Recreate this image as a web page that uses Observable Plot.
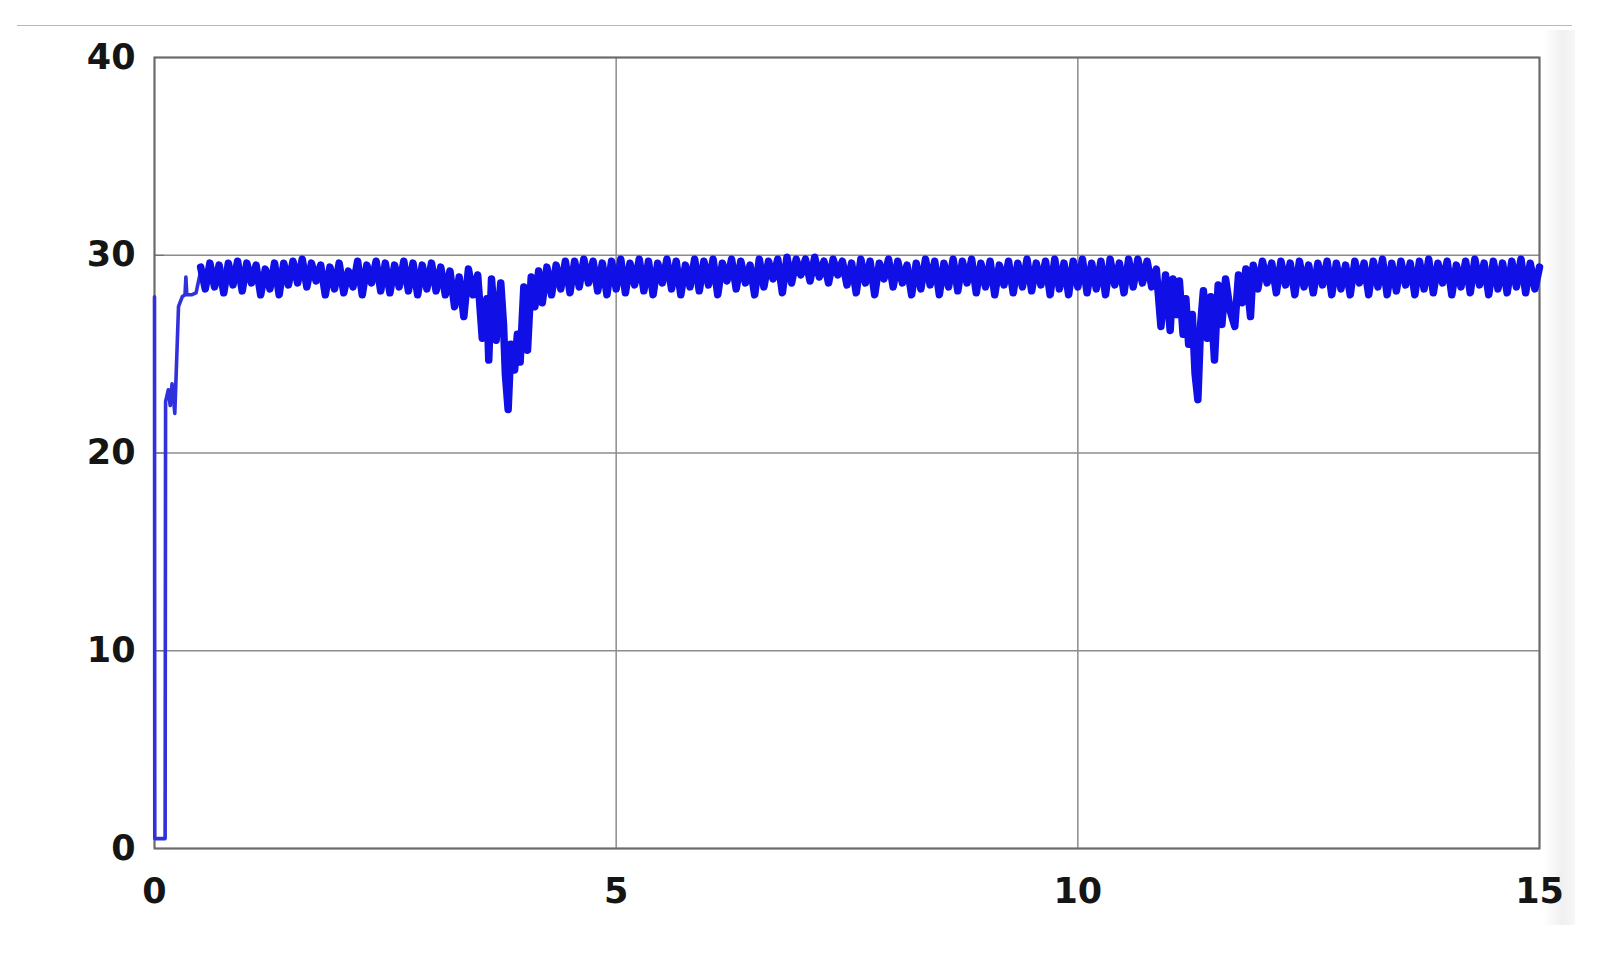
<!DOCTYPE html>
<html><head><meta charset="utf-8">
<script src="https://cdn.jsdelivr.net/npm/d3@7"></script>
<script src="https://cdn.jsdelivr.net/npm/@observablehq/plot@0.6"></script>
<style>
body{margin:0;background:#fff;}
#wrap{position:relative;width:1600px;height:958px;overflow:hidden;}
#shade{position:absolute;left:1543px;top:30px;width:32px;height:895px;background:linear-gradient(to right,#ffffff,#f0f0f0 60%,#f7f7f7);}
#topline{position:absolute;left:17px;top:25px;width:1555px;height:1px;background:#b8b8b8;}
#chart{position:absolute;left:0;top:0;}
</style></head>
<body><div id="wrap"><div id="shade"></div><div id="chart"></div><div id="topline"></div></div>
<script>
const xTicks = [0, 5, 10, 15];
const yTicks = [0, 10, 20, 30, 40];

// start-up transient [time, value]
const startup = [[0,27.9],[0.003,0.5],[0.115,0.5],[0.12,22.6],[0.15,23.2],[0.17,22.4],[0.19,23.5],[0.22,22.0],[0.26,27.4],[0.30,27.9],[0.33,28.0],[0.34,28.9],[0.35,28.0],[0.40,28.0],[0.45,28.1],[0.50,29.2]];

const run1 = [[0.50,29.4],[0.55,28.3],[0.60,29.6],[0.65,28.4],[0.70,29.5],[0.75,28.1],[0.80,29.6],[0.85,28.5],[0.90,29.7],[0.95,28.2],
[1.00,29.6],[1.05,28.6],[1.10,29.5],[1.15,28.0],[1.20,29.3],[1.25,28.3],[1.30,29.6],[1.35,28.0],[1.40,29.6],[1.45,28.5],
[1.50,29.7],[1.55,28.6],[1.60,29.8],[1.65,28.4],[1.70,29.6],[1.75,28.7],[1.80,29.5],[1.85,28.0],[1.90,29.4],[1.95,28.3],
[2.00,29.6],[2.05,28.1],[2.10,29.2],[2.15,28.4],[2.20,29.7],[2.25,28.0],[2.30,29.5],[2.35,28.6],[2.40,29.7],[2.45,28.2],
[2.50,29.6],[2.55,28.1],[2.60,29.5],[2.65,28.4],[2.70,29.7],[2.75,28.2],[2.80,29.6],[2.85,28.0],[2.90,29.5],[2.95,28.3],
[3.00,29.6],[3.05,28.2],[3.10,29.4],[3.15,28.0],[3.20,29.2]];

const dip1 = [[3.25,27.4],[3.30,28.9],[3.35,26.9],[3.40,29.3],[3.45,28.0],[3.50,29.0],[3.55,25.8],[3.60,27.8],[3.62,24.7],[3.65,28.8],
[3.70,25.7],[3.75,28.6],[3.78,26.5],[3.80,24.0],[3.83,22.2],[3.86,25.5],[3.90,24.2],[3.93,26.0],[3.96,24.6],[4.00,28.4],
[4.04,25.2],[4.08,28.9],[4.12,27.4],[4.16,29.2],[4.20,27.6],[4.25,29.4],[4.30,28.0],[4.35,29.5],[4.40,28.3],[4.45,29.7]];

const run2 = [[4.50,28.1],[4.55,29.7],[4.60,28.4],[4.65,29.8],[4.70,28.6],[4.75,29.7],[4.80,28.2],[4.85,29.6],[4.90,28.0],[4.95,29.7],
[5.00,28.3],[5.05,29.8],[5.10,28.1],[5.15,29.6],[5.20,28.5],[5.25,29.8],[5.30,28.2],[5.35,29.7],[5.40,28.0],[5.45,29.6],
[5.50,28.6],[5.55,29.8],[5.60,28.3],[5.65,29.7],[5.70,28.0],[5.75,29.5],[5.80,28.4],[5.85,29.8],[5.90,28.2],[5.95,29.7],
[6.00,28.5],[6.05,29.8],[6.10,28.0],[6.15,29.6],[6.20,28.7],[6.25,29.8],[6.30,28.3],[6.35,29.7],[6.40,28.6],[6.45,29.5],
[6.50,28.0],[6.55,29.8],[6.60,28.4],[6.65,29.7],[6.70,28.8],[6.75,29.8],[6.80,28.1],[6.85,29.9],[6.90,28.6],[6.95,29.8],
[7.00,29.0],[7.05,29.8],[7.10,28.7],[7.15,29.9],[7.20,28.9],[7.25,29.7],[7.30,28.6],[7.35,29.8],[7.40,29.0],[7.45,29.7],
[7.50,28.5],[7.55,29.6],[7.60,28.1],[7.65,29.8],[7.70,28.6],[7.75,29.7],[7.80,28.0],[7.85,29.6],[7.90,28.8],[7.95,29.8],
[8.00,28.4],[8.05,29.7],[8.10,28.6],[8.15,29.5],[8.20,28.0],[8.25,29.6],[8.30,28.3],[8.35,29.8],[8.40,28.5],[8.45,29.7],
[8.50,28.0],[8.55,29.6],[8.60,28.4],[8.65,29.8],[8.70,28.2],[8.75,29.7],[8.80,28.6],[8.85,29.8],[8.90,28.1],[8.95,29.6],
[9.00,28.4],[9.05,29.7],[9.10,28.0],[9.15,29.5],[9.20,28.5],[9.25,29.7],[9.30,28.1],[9.35,29.6],[9.40,28.4],[9.45,29.8],
[9.50,28.2],[9.55,29.6],[9.60,28.5],[9.65,29.7],[9.70,28.0],[9.75,29.8],[9.80,28.3],[9.85,29.6],[9.90,28.0],[9.95,29.7],
[10.00,28.4],[10.05,29.8],[10.10,28.1],[10.15,29.6],[10.20,28.3],[10.25,29.7],[10.30,28.0],[10.35,29.8],[10.40,28.5],[10.45,29.6],
[10.50,28.1],[10.55,29.8],[10.60,28.4],[10.65,29.8],[10.70,28.6]];

const dip2 = [[10.75,29.7],[10.80,28.4],[10.85,29.3],[10.90,26.4],[10.95,29.0],[11.00,26.2],[11.03,28.8],[11.07,27.0],[11.10,28.7],[11.14,26.0],
[11.17,27.8],[11.20,25.5],[11.24,27.0],[11.27,24.0],[11.30,22.7],[11.33,26.5],[11.36,28.2],[11.40,25.8],[11.44,27.9],[11.48,24.7],
[11.52,28.5],[11.56,26.5],[11.60,28.8],[11.65,27.2],[11.70,26.4],[11.74,29.0],[11.78,27.6],[11.82,29.3],[11.87,26.9],[11.90,29.5]];

const run3 = [[11.95,28.3],[12.00,29.7],[12.05,28.6],[12.10,29.6],[12.15,28.1],[12.20,29.7],[12.25,28.5],[12.30,29.6],[12.35,28.0],[12.40,29.7],
[12.45,28.4],[12.50,29.5],[12.55,28.1],[12.60,29.6],[12.65,28.5],[12.70,29.7],[12.75,28.0],[12.80,29.6],[12.85,28.3],[12.90,29.5],
[12.95,28.0],[13.00,29.7],[13.05,28.6],[13.10,29.6],[13.15,28.0],[13.20,29.7],[13.25,28.4],[13.30,29.8],[13.35,28.0],[13.40,29.6],
[13.45,28.2],[13.50,29.7],[13.55,28.5],[13.60,29.6],[13.65,28.0],[13.70,29.7],[13.75,28.3],[13.80,29.8],[13.85,28.1],[13.90,29.6],
[13.95,28.6],[14.00,29.7],[14.05,28.0],[14.10,29.5],[14.15,28.4],[14.20,29.7],[14.25,28.1],[14.30,29.8],[14.35,28.5],[14.40,29.6],
[14.45,28.0],[14.50,29.7],[14.55,28.3],[14.60,29.6],[14.65,28.1],[14.70,29.7],[14.75,28.4],[14.80,29.8],[14.85,28.1],[14.90,29.6],
[14.95,28.3],[15.00,29.4]];

const steady = [...run1, ...dip1, ...run2, ...dip2, ...run3];

const chart = Plot.plot({
  width: 1600, height: 958,
  marginLeft: 154, marginRight: 61, marginTop: 57, marginBottom: 110,
  x: {domain: [0, 15]},
  y: {domain: [0, 40]},
  style: {fontFamily: "'DejaVu Sans', Arial, sans-serif", fontSize: "35px", fontWeight: "bold", color: "#151515", background: "none", overflow: "visible"},
  marks: [
    Plot.gridX(xTicks, {stroke: "#8c8c8c", strokeOpacity: 1, strokeWidth: 1.5}),
    Plot.gridY(yTicks, {stroke: "#8c8c8c", strokeOpacity: 1, strokeWidth: 1.5}),
    Plot.frame({stroke: "#6a6a6a", strokeWidth: 2}),
    Plot.axisX(xTicks, {tickSize: 0, tickPadding: 30, tickFormat: d => String(d)}),
    Plot.axisY(yTicks, {tickSize: -10, tickPadding: 29, stroke: "#6a6a6a", tickFormat: d => String(d)}),
    Plot.line(startup, {x: d => d[0], y: d => d[1], stroke: "#3030dc", strokeWidth: 3.6}),
    Plot.line(steady, {x: d => d[0], y: d => d[1], stroke: "#0f0fe6", strokeWidth: 7.5, strokeLinejoin: "round"})
  ]
});
document.getElementById("chart").appendChild(chart);
</script>
</body></html>
